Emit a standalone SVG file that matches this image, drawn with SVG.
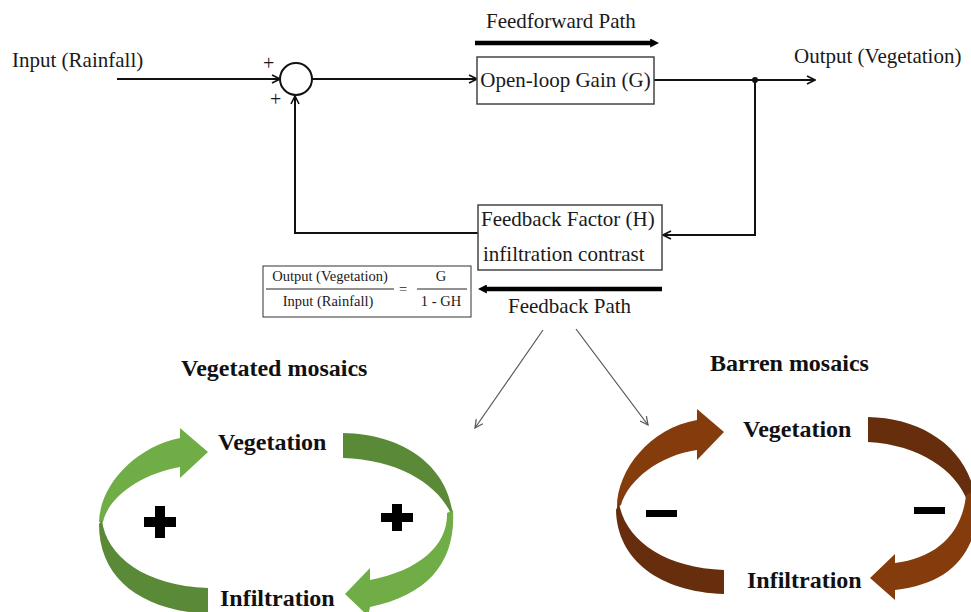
<svg xmlns="http://www.w3.org/2000/svg" width="971" height="612" viewBox="0 0 971 612">
<style>
text{font-family:"Liberation Serif","Times New Roman",serif;fill:#1a1a1a}
.lbl{font-size:21px}
.small{font-size:14.5px}
.pm{font-size:20px}
.bold{font-size:24px;font-weight:bold;fill:#111}
.box{fill:#fff;stroke:#444;stroke-width:1.5}
.wire{fill:none;stroke:#111;stroke-width:2}
.thin{fill:none;stroke:#555;stroke-width:1.2}
.thick{fill:none;stroke:#000;stroke-width:4.5}
.sym{fill:#000}
.gl{fill:#70AD47}
.gd{fill:#5A8A38}
.bl{fill:#843C0C}
.bd{fill:#662E0D}
</style>
<defs>
<marker id="oa" viewBox="0 0 10 10" refX="9" refY="5" markerWidth="10" markerHeight="10" markerUnits="userSpaceOnUse" orient="auto">
<path d="M1,1 L9,5 L1,9" fill="none" stroke="#111" stroke-width="1.6"/>
</marker>
<marker id="ga" viewBox="0 0 10 10" refX="9" refY="5" markerWidth="10" markerHeight="10" markerUnits="userSpaceOnUse" orient="auto">
<path d="M1,1 L9,5 L1,9" fill="none" stroke="#555" stroke-width="1.2"/>
</marker>
<marker id="ta" viewBox="0 0 10 10" refX="2" refY="5" markerWidth="9" markerHeight="9" markerUnits="userSpaceOnUse" orient="auto">
<path d="M0,0 L10,5 L0,10 Z" fill="#000"/>
</marker>
</defs>

<g id="connectors">
<line class="wire" x1="117" y1="79" x2="280" y2="79" marker-end="url(#oa)"/>
<line class="wire" x1="312" y1="79" x2="477" y2="79" marker-end="url(#oa)"/>
<line class="wire" x1="654" y1="80" x2="815" y2="80" marker-end="url(#oa)"/>
<polyline class="wire" points="755,80 755,235 663,235" marker-end="url(#oa)"/>
<polyline class="wire" points="478,233 295,233 295,96" marker-end="url(#oa)"/>
<circle cx="755" cy="80" r="3" fill="#111"/>
<line class="thick" x1="475" y1="43" x2="652" y2="43" marker-end="url(#ta)"/>
<line class="thick" x1="662" y1="289" x2="485" y2="289" marker-end="url(#ta)"/>
<line class="thin" x1="543" y1="330" x2="475" y2="428" marker-end="url(#ga)"/>
<line class="thin" x1="576" y1="329" x2="648" y2="425" marker-end="url(#ga)"/>
</g>

<g id="labels">
<text class="lbl" x="12" y="67">Input (Rainfall)</text>
<text class="lbl" x="794" y="63">Output (Vegetation)</text>
<text class="lbl" x="486" y="28">Feedforward Path</text>
<text class="lbl" x="508" y="313">Feedback Path</text>
<text class="pm" x="263" y="70">+</text>
<text class="pm" x="270" y="106">+</text>
</g>

<g id="summing">
<circle cx="296" cy="79" r="16" fill="#fff" stroke="#111" stroke-width="2"/>
</g>

<g id="gain">
<rect class="box" x="477" y="57" width="177" height="47"/>
<text class="lbl" x="565.5" y="87" text-anchor="middle">Open-loop Gain (G)</text>
</g>

<g id="feedback">
<rect class="box" x="478" y="205" width="184" height="65"/>
<text class="lbl" x="481" y="226">Feedback Factor (H)</text>
<text class="lbl" x="483" y="261">infiltration contrast</text>
</g>

<g id="formula">
<rect x="263" y="266" width="208" height="51" fill="#fff" stroke="#333" stroke-width="1"/>
<text class="small" x="330" y="281" text-anchor="middle">Output (Vegetation)</text>
<line x1="266" y1="289" x2="394" y2="289" stroke="#222" stroke-width="1"/>
<text class="small" x="328" y="306" text-anchor="middle">Input (Rainfall)</text>
<text class="small" x="403" y="294" text-anchor="middle">=</text>
<text class="small" x="441" y="281" text-anchor="middle">G</text>
<line x1="417" y1="289" x2="467" y2="289" stroke="#222" stroke-width="1"/>
<text class="small" x="441" y="306" text-anchor="middle">1 - GH</text>
</g>

<g id="vegetated">
<text class="bold" x="181" y="376">Vegetated mosaics</text>
<path class="gl" d="M99,522 C100,485 135,447 180,438 L180,428 L208,452 L180,478 L180,467 C140,474 108,498 103,522 Z"/>
<path class="gd" d="M102,520 C106,556 145,586 208,588 L208,614 C140,610 99,578 99,524 Z"/>
<path class="gd" d="M343,433 C405,434 450,468 453,518 C440,485 400,460 343,458 Z"/>
<path class="gl" d="M453,510 C456,560 430,595 370,607 L368,616 L345,594 L370,568 L370,580 C420,570 448,545 447,513 Z"/>
<text class="bold" x="218" y="450">Vegetation</text>
<text class="bold" x="220" y="606">Infiltration</text>
<path class="sym" d="M155,506 h10 v11 h11 v10 h-11 v11 h-10 v-11 h-11 v-10 h11 Z"/>
<path class="sym" d="M392,504 h10 v9 h11 v9 h-11 v9 h-10 v-9 h-11 v-9 h11 Z"/>
</g>

<g id="barren">
<text class="bold" x="710" y="371">Barren mosaics</text>
<path class="bl" d="M617,507 C617,470 650,428 697,420 L697,409 L724,432 L697,460 L697,450 C660,455 628,480 621,505 Z"/>
<path class="bd" d="M619,503 C625,540 665,568 724,570 L724,594 C660,592 617,560 616,510 Z"/>
<path class="bd" d="M868,417 C920,418 965,445 975,495 L967,500 C955,470 920,445 868,442 Z"/>
<path class="bl" d="M975,490 L975,530 C965,565 940,585 895,590 L895,600 L870,578 L895,554 L895,563 C935,558 962,535 966,495 Z"/>
<text class="bold" x="743" y="437">Vegetation</text>
<text class="bold" x="747" y="588">Infiltration</text>
<rect class="sym" x="646" y="510" width="31" height="7"/>
<rect class="sym" x="914" y="507" width="31" height="7"/>
</g>
</svg>
